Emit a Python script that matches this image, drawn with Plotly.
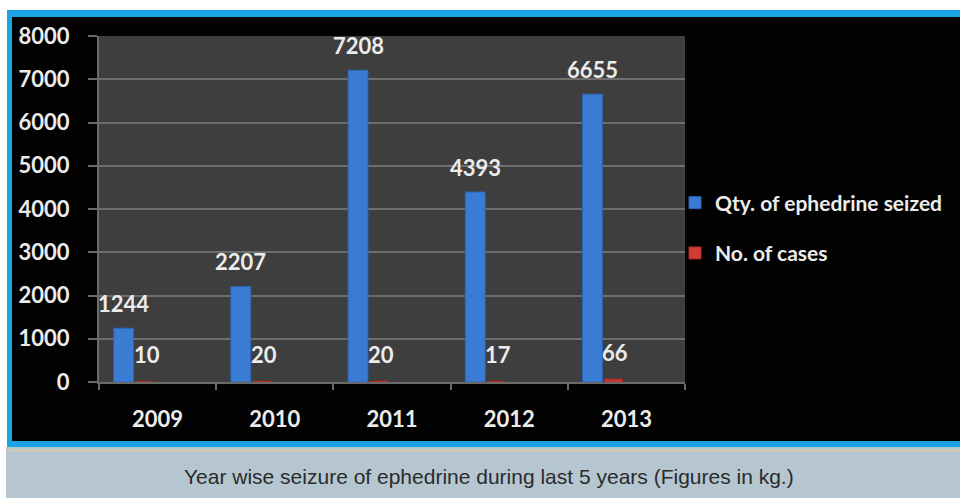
import plotly.graph_objects as go

years = ["2009", "2010", "2011", "2012", "2013"]
qty_seized = [1244, 2207, 7208, 4393, 6655]
num_cases = [10, 20, 20, 17, 66]
series_names = ["Qty. of ephedrine seized", "No. of cases"]
caption = "Year wise seizure of ephedrine during last 5 years (Figures in kg.)"

# plot-area pixel geometry (960x498 canvas)
L, R, T, B = 99, 685, 36, 382
W, H = R - L, B - T


def px_x(x):
    return (x - L) / W


def px_y(y):
    return (B - y) / H


FONT = "Lato"
TXT = "#ececec"

fig = go.Figure()
fig.add_trace(go.Bar(
    x=years, y=qty_seized, name=series_names[0], legendgroup="a",
    marker=dict(color="#3a7bd3", line=dict(width=1, color="#2c64b5")),
    width=0.17, offset=-0.375,
))
fig.add_trace(go.Bar(
    x=years, y=num_cases, name=series_names[1], legendgroup="b",
    marker=dict(color="#d23a35", line=dict(width=1, color="#b02a26")),
    width=0.15, offset=-0.185,
))

annotations = []
for i, v in enumerate(qty_seized):
    annotations.append(dict(x=i, y=v, xref="x", yref="y", text=str(v), showarrow=False,
                            xshift=-34, yshift=25, yanchor="middle",
                            font=dict(family=FONT, size=22, color=TXT, weight="bold")))
for i, v in enumerate(num_cases):
    annotations.append(dict(x=i, y=v, xref="x", yref="y", text=str(v), showarrow=False,
                            xshift=-11, yshift=27, yanchor="middle",
                            font=dict(family=FONT, size=22, color=TXT, weight="bold")))
annotations.append(dict(x=px_x(489), y=px_y(476), xref="paper", yref="paper", text=caption,
                        showarrow=False, xanchor="center", yanchor="middle",
                        font=dict(family="Liberation Sans", size=21, color="#2b2b2b")))

shapes = [
    dict(type="rect", xref="paper", yref="paper", x0=px_x(7), x1=px_x(960), y0=px_y(10), y1=px_y(447),
         fillcolor="#1ba3e3", line=dict(width=0), layer="below"),
    dict(type="rect", xref="paper", yref="paper", x0=px_x(12), x1=px_x(960), y0=px_y(17), y1=px_y(441),
         fillcolor="#020202", line=dict(width=0), layer="below"),
    dict(type="rect", xref="paper", yref="paper", x0=px_x(6), x1=px_x(960), y0=px_y(447), y1=px_y(498),
         fillcolor="#b6c6d0", line=dict(width=0), layer="below"),
    dict(type="rect", xref="paper", yref="paper", x0=px_x(6), x1=px_x(960), y0=px_y(449), y1=px_y(452),
         fillcolor="#cdc8bb", line=dict(width=0), layer="below"),
    dict(type="rect", xref="paper", yref="paper", x0=0, x1=1, y0=0, y1=1,
         fillcolor="#3e3e3e", line=dict(width=0), layer="below"),
]

fig.update_layout(
    width=960, height=498,
    margin=dict(l=L, r=960 - R, t=T, b=498 - B, pad=0),
    paper_bgcolor="#ffffff", plot_bgcolor="rgba(0,0,0,0)",
    barmode="overlay",
    showlegend=True,
    legend=dict(x=px_x(675), y=px_y(228), xanchor="left", yanchor="middle",
                traceorder="grouped", tracegroupgap=20, bgcolor="rgba(0,0,0,0)",
                font=dict(family=FONT, size=21, color=TXT, weight="bold")),
    annotations=annotations,
    shapes=shapes,
    xaxis=dict(type="category", categoryorder="array", categoryarray=years, range=[-0.5, 4.5],
               showgrid=False, showline=True, linecolor="#6a6a6a", linewidth=2,
               ticks="outside", tickson="boundaries", ticklen=6, tickcolor="#6a6a6a", tickwidth=2,
               tickangle=0,
               tickfont=dict(family=FONT, size=22, color=TXT, weight="bold"), ticklabelstandoff=17),
    yaxis=dict(range=[0, 8000], dtick=1000, showgrid=True, gridcolor="#6e6e6e", gridwidth=2,
               showline=True, linecolor="#6a6a6a", linewidth=2, zeroline=False,
               ticks="outside", ticklen=9, tickcolor="#6a6a6a", tickwidth=2,
               tickfont=dict(family=FONT, size=22, color=TXT, weight="bold"), ticklabelstandoff=14),
)

fig.write_html("out.html")
